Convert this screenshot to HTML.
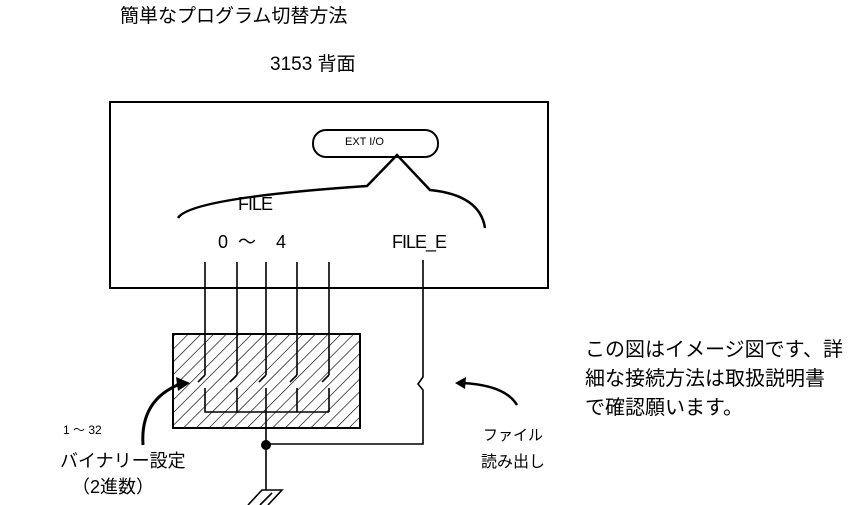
<!DOCTYPE html>
<html><head><meta charset="utf-8"><style>
body{margin:0;background:#fff;width:857px;height:505px;overflow:hidden;position:relative;font-family:"Liberation Sans","Noto Sans CJK JP",sans-serif;color:#000}
.t{position:absolute;white-space:nowrap;line-height:1}
</style></head><body>
<svg width="857" height="505" style="position:absolute;left:0;top:0">
<defs>
<pattern id="h" width="9" height="9" patternUnits="userSpaceOnUse" patternTransform="rotate(45)">
<line x1="0" y1="0" x2="0" y2="9" stroke="#000" stroke-width="1.3"/>
</pattern>
</defs>
<rect x="110" y="102" width="438" height="186" fill="none" stroke="#000" stroke-width="2"/>
<rect x="313" y="130" width="125" height="27" rx="13" fill="#fff" stroke="#000" stroke-width="2"/>
<path d="M178 218 Q190 198 367 186 L397 155 L430 190 Q480 195 485 228" fill="none" stroke="#000" stroke-width="2.5"/>
<rect x="173" y="334" width="187" height="94" fill="url(#h)" stroke="#000" stroke-width="2"/>
<g stroke="#000" stroke-width="1.6" fill="none">
<path d="M205 262 V375 M205 388 V412 H329 M205 375 L198 382"/>
<path d="M237 262 V375 M237 388 V412 M237 375 L230 382"/>
<path d="M266 262 V375 M266 388 V490 M266 375 L259 382"/>
<path d="M297 262 V375 M297 388 V412 M297 375 L290 382"/>
<path d="M329 262 V375 M329 388 V412 M329 375 L322 382"/>
<path d="M423 260 V377 L418 384 L423 390 V444 H266"/>
<path d="M248 505 L262 490 H282 L268 505 M260 505 L272 493"/>
</g>
<circle cx="266" cy="445" r="5" fill="#000"/>
<path d="M143 445 Q140 400 180 384" fill="none" stroke="#000" stroke-width="3"/>
<path d="M190 383 L176 377 L178 391 Z" fill="#000"/>
<path d="M517 405 Q505 385 462 383" fill="none" stroke="#000" stroke-width="2.5"/>
<path d="M455 383 L466 377 L465 389 Z" fill="#000"/>
</svg>
<div class="t" style="left:120px;top:7px;font-size:19px">簡単なプログラム切替方法</div>
<div class="t" style="left:270px;top:55px;font-size:19px">3153 背面</div>
<div class="t" style="left:345px;top:137px;font-size:11px">EXT I/O</div>
<div class="t" style="left:238px;top:195px;font-size:18px;letter-spacing:-1px">FILE</div>
<div class="t" style="left:218px;top:233px;font-size:18px">0&nbsp;&nbsp;～&nbsp;&nbsp;&nbsp;&nbsp;4</div>
<div class="t" style="left:392px;top:233px;font-size:18px;letter-spacing:-1px">FILE_E</div>
<div class="t" style="left:585px;top:336px;font-size:20px;line-height:29px">この図はイメージ図です、詳<br>細な接続方法は取扱説明書<br>で確認願います。</div>
<div class="t" style="left:483px;top:428px;font-size:15px">ファイル</div>
<div class="t" style="left:481px;top:455px;font-size:16px">読み出し</div>
<div class="t" style="left:63px;top:424px;font-size:12px">1 ～ 32</div>
<div class="t" style="left:60px;top:452px;font-size:18px">バイナリー設定</div>
<div class="t" style="left:72px;top:478px;font-size:18px">（2進数）</div>
</body></html>
